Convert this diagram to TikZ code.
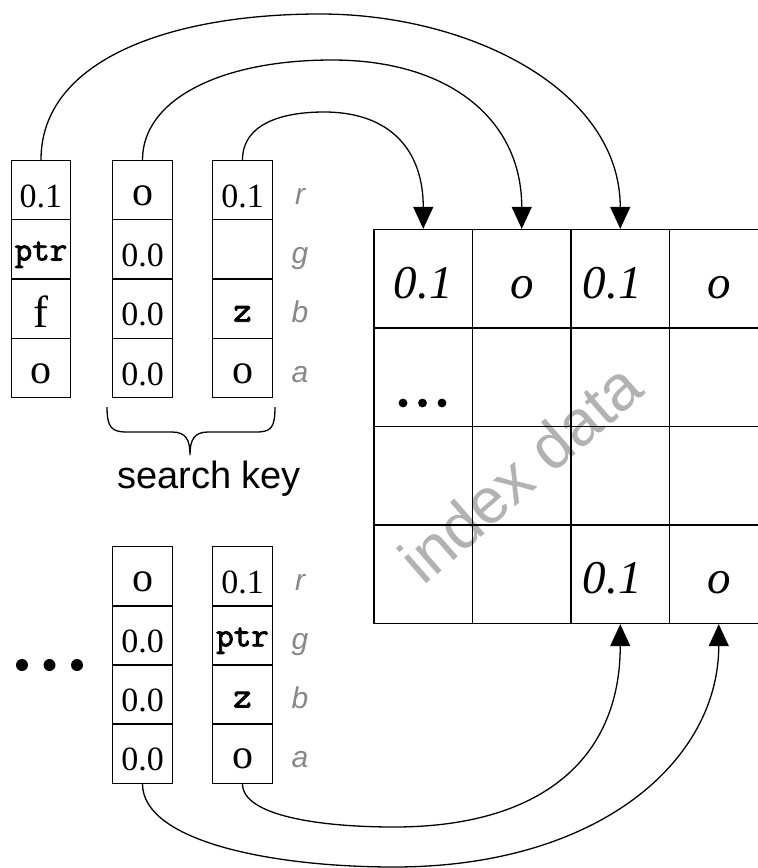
\documentclass[tikz,border=0pt]{standalone}
\usepackage{fontspec}
\setmainfont{Liberation Serif}
\setsansfont{Liberation Sans}
\newfontface\courb{Latin Modern Mono}[FakeBold=2.5]
\usetikzlibrary{arrows.meta,calc}
\newcommand\fsz[1]{\fontsize{#1}{#1}\selectfont}
\definecolor{chgray}{RGB}{136,136,136}
\definecolor{idxgray}{RGB}{178,178,178}

\begin{document}
\begin{tikzpicture}[x=1pt,y=-1pt,
  vcell/.style={draw, line width=1.3pt, minimum width=59.5pt, minimum height=59.3pt,
    inner sep=0pt, text height=34pt, text depth=0pt, font=\fsz{34}},
  lett/.style={text height=30pt, font=\fsz{42}},
  eff/.style={text height=38pt, font=\fsz{45}},
  ptrtxt/.style={text height=22pt, font=\courb\fsz{34}},
  zed/.style={text height=26pt, font=\courb\fsz{36}},
  gcell/.style={draw, line width=1.3pt, minimum size=98.5pt, inner sep=0pt,
    text height=39pt, text depth=0pt, font=\itshape\fsz{47}},
  chan/.style={anchor=base, text=chgray, font=\sffamily\itshape\fsz{30}},
  conn/.style={line width=1.3pt, -{Triangle[width=20pt,length=22pt]}},
  edge/.style={line width=1.3pt}]

\useasboundingbox (0,0) rectangle (758,868);
\clip (0,0) rectangle (758,868);

% watermark behind the index table
\node[rotate=41, anchor=base, text=idxgray, font=\sffamily\fsz{64}] (idx) at (535,490) {index data};

% index data table
\foreach \r in {1,...,4}{
  \foreach \c in {1,...,4}{
    \node[gcell] (gc-\r-\c) at ({374+98.5*(\c-0.5)},{229.5+98.5*(\r-0.5)}) {};
  }
}
\node[gcell, draw=none] (t11) at (gc-1-1) {0.1};
\node[gcell, draw=none] (t12) at (gc-1-2) {o};
\node[gcell, draw=none] (t13) at ([xshift=-8pt]gc-1-3) {0.1};
\node[gcell, draw=none] (t14) at (gc-1-4) {o};
\node[gcell, draw=none] (t43) at ([xshift=-8pt]gc-4-3) {0.1};
\node[gcell, draw=none] (t44) at (gc-4-4) {o};
\fill (403,403) circle (4.4) (422.5,403) circle (4.4) (442,403) circle (4.4);

% first pixel vector
\node[vcell] (v1-1) at (41,190.1) {0.1};
\node[vcell,ptrtxt] (v1-2) at (41,249.4) {ptr};
\node[vcell,eff] (v1-3) at (41,308.7) {f};
\node[vcell,lett] (v1-4) at (41,368) {o};

% search key vectors
\node[vcell,lett] (v2-1) at (142.5,190.1) {o};
\node[vcell] (v2-2) at (142.5,249.4) {0.0};
\node[vcell] (v2-3) at (142.5,308.7) {0.0};
\node[vcell] (v2-4) at (142.5,368) {0.0};

\node[vcell] (v3-1) at (242.5,190.1) {0.1};
\node[vcell] (v3-2) at (242.5,249.4) {};
\node[vcell,zed] (v3-3) at (242.5,308.7) {z};
\node[vcell,lett] (v3-4) at (242.5,368) {o};

% channel labels
\node[chan] (lr1) at (300,204.1) {r};
\node[chan] (lg1) at (300,263.4) {g};
\node[chan] (lb1) at (300,322.7) {b};
\node[chan] (la1) at (300,382) {a};

% brace and caption
\draw[edge] (107,407) .. controls (107,428) and (112,432) .. (127,432) -- (172,432)
  .. controls (186,432) and (190,440) .. (190,455)
  .. controls (190,440) and (194,432) .. (208,432) -- (256,432)
  .. controls (271,432) and (275,428) .. (275,407);
\coordinate (btip) at (190,455);
\node[anchor=base, font=\sffamily\fsz{38}] (skey) at (209,488) {search key};

% lower vectors
\fill (22,665) circle (6) (49.5,665) circle (6) (77,665) circle (6);

\node[vcell,lett] (w1-1) at (142.5,576.2) {o};
\node[vcell] (w1-2) at (142.5,635.3) {0.0};
\node[vcell] (w1-3) at (142.5,694.4) {0.0};
\node[vcell] (w1-4) at (142.5,753.5) {0.0};

\node[vcell] (w2-1) at (242.5,576.2) {0.1};
\node[vcell,ptrtxt] (w2-2) at (242.5,635.3) {ptr};
\node[vcell,zed] (w2-3) at (242.5,694.4) {z};
\node[vcell,lett] (w2-4) at (242.5,753.5) {o};

\node[chan] (lr2) at (300,590.2) {r};
\node[chan] (lg2) at (300,649.3) {g};
\node[chan] (lb2) at (300,708.4) {b};
\node[chan] (la2) at (300,767.5) {a};

% connectors into the table
\draw[conn] (v1-1.north) .. controls +(0,-100) and (170,14) .. (320,14)
  .. controls (470,14) and (620.25,90) .. (gc-1-3.north);
\draw[conn] (v2-1.north) .. controls +(0,-60) and (220,60) .. (332,60)
  .. controls (450,60) and (521.75,120) .. (gc-1-2.north);
\draw[conn] (v3-1.north) .. controls +(0,-35) and (280,112) .. (324,112)
  .. controls (390,112) and (423.25,150) .. (gc-1-1.north);

\draw[conn] (w2-4.south) .. controls +(0,32) and (320,827) .. (394,827)
  .. controls (540,827) and (620.25,760) .. (gc-4-3.south);
\draw[conn] (w1-4.south) .. controls +(0,57) and (270,867) .. (394,867)
  .. controls (600,867) and (718.75,760) .. (gc-4-4.south);
\end{tikzpicture}
\end{document}
